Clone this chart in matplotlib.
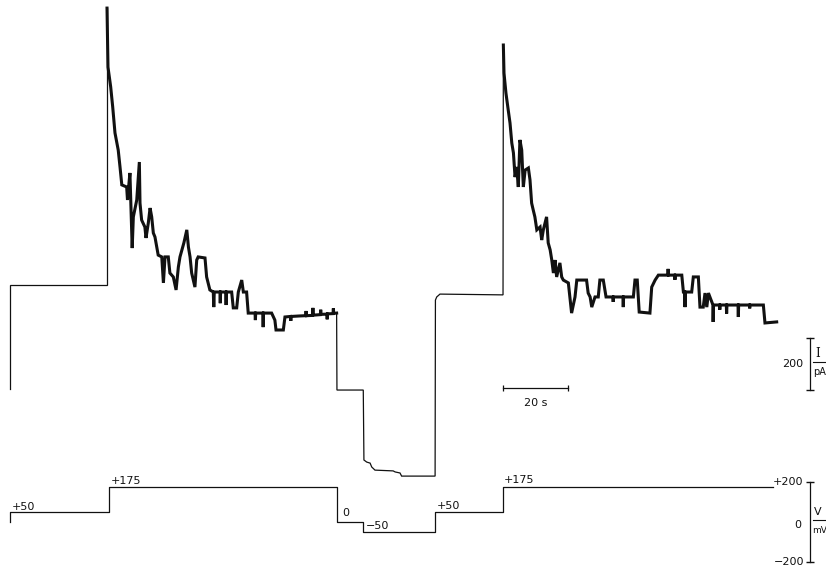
import matplotlib
matplotlib.use("Agg")
import matplotlib.pyplot as plt

# ---------------- data (time in s, current in pA, voltage in mV) ----------------
holding_segment = [(0, 0), (0, 400), (29.85, 400), (29.85, 1465)]

response1 = [(29.85, 1465), (30.15, 1238), (30.98, 1162), (31.6, 1085), (32.3, 985),
             (33.3, 919), (33.85, 854), (34.4, 785), (35.9, 777), (36.15, 727),
             (36.5, 777), (36.9, 831), (37.6, 542), (37.95, 662), (39.0, 727),
             (39.8, 873), (40.0, 715), (40.5, 650), (41.5, 623), (41.85, 581),
             (42.55, 638), (43.1, 696), (43.6, 662), (44.1, 600), (44.6, 585),
             (45.6, 515), (46.7, 508), (47.2, 408), (47.7, 508), (48.7, 508),
             (49.2, 446), (50.25, 431), (51.1, 381), (51.8, 469), (52.3, 508),
             (53.5, 562), (54.4, 612), (54.9, 546), (55.4, 508), (55.9, 446),
             (56.9, 392), (57.45, 496), (57.9, 508), (60.0, 504), (60.5, 431),
             (61.5, 381), (62.55, 373), (62.7, 315), (62.85, 373), (64.6, 373),
             (64.7, 330), (64.8, 373), (66.4, 373), (66.5, 323), (66.6, 373),
             (68.2, 373), (68.7, 312), (69.75, 312), (70.25, 373), (71.3, 419),
             (71.8, 373), (72.8, 373), (73.3, 292), (75.4, 292), (75.5, 265),
             (75.6, 292), (77.8, 292), (77.9, 238), (78.0, 292), (80.5, 292),
             (81.5, 265), (81.85, 227), (84.1, 227), (84.6, 277), (86.3, 279),
             (86.4, 262), (86.5, 279), (89.2, 281), (91.0, 282), (91.1, 300),
             (91.2, 282), (93.1, 283), (93.2, 312), (93.3, 284), (95.5, 286),
             (95.6, 305), (95.7, 287), (97.5, 288), (97.6, 268), (97.7, 289),
             (99.4, 290), (99.5, 310), (99.6, 291), (100.5, 292)]

steps_segment = [(100.5, 292), (100.6, -4), (108.7, -4), (108.9, -273), (109.75, -281),
                 (110.8, -285), (111.3, -300), (112.3, -312), (117.9, -315),
                 (118.5, -319), (120.0, -323), (120.5, -335), (130.8, -335),
                 (130.9, 342), (131.3, 354), (132.3, 365), (151.7, 362), (151.8, 1323)]

response2 = [(151.8, 1323), (152.0, 1215), (152.6, 1138), (153.3, 1073), (153.85, 1023),
             (154.4, 946), (154.9, 908), (155.4, 815), (155.9, 854), (156.4, 777),
             (156.9, 958), (157.45, 919), (157.95, 777), (158.5, 842), (159.5, 850),
             (160.0, 804), (160.5, 715), (161.0, 688), (161.5, 662), (162.1, 612),
             (163.1, 623), (163.6, 573), (164.1, 612), (165.1, 662), (165.6, 562),
             (166.2, 535), (166.7, 496), (167.2, 446), (167.7, 496), (168.2, 431),
             (169.2, 485), (169.75, 431), (170.25, 419), (171.8, 408), (172.8, 292),
             (173.85, 354), (174.4, 419), (177.4, 419), (177.9, 369), (178.5, 354),
             (179.0, 315), (180.0, 354), (181.0, 354), (181.5, 419), (182.55, 419),
             (183.4, 354), (185.5, 354), (185.6, 335), (185.7, 354), (188.6, 354),
             (188.7, 315), (188.8, 354), (191.8, 354),
             (192.3, 419), (193.0, 419), (193.6, 296), (196.9, 292), (197.45, 392),
             (198.5, 419), (199.5, 438), (202.4, 438), (202.5, 462), (202.6, 438),
             (204.5, 438), (204.6, 420), (204.7, 438),
             (206.7, 438), (207.2, 373), (207.6, 373), (207.7, 315), (207.8, 373),
             (209.75, 373), (210.25, 431), (211.8, 431), (212.3, 315), (213.3, 315),
             (213.85, 369), (214.4, 315), (214.9, 369), (216.3, 323), (216.35, 258),
             (216.45, 323), (218.3, 323), (218.4, 305), (218.5, 323),
             (220.4, 323), (220.5, 290), (220.6, 323), (224.0, 323),
             (224.1, 277), (224.2, 323), (227.5, 323), (227.6, 310), (227.7, 323),
             (231.8, 323), (232.3, 254), (235.9, 258)]

volt_start = 0
volt_times = [0, 30.5, 100.5, 108.7, 130.8, 151.6, 234.8]
volt_levels = [50, 175, 0, -50, 50, 175, 175]
volt_labels = ["+50", "+175", "0", "\u221250", "+50", "+175"]

current_bar_pA = 200
time_bar_s = 20
volt_bar_mV = 200

# ---------------- figure ----------------
fig = plt.figure(figsize=(8.26, 5.69), dpi=100)
plt.rcParams['font.family'] = ['DejaVu Sans']

ax = fig.add_axes([0, 0, 1, 1])
ax.set_xlim(-10 / 3.25, 816 / 3.25)
ax.set_ylim(-180 / 0.26, 389 / 0.26)
ax.set_axis_off()

vax = fig.add_axes([0, 0, 1, 1], sharex=ax)
vax.set_ylim(-47 / 0.2, 522 / 0.2)
vax.set_axis_off()
vax.patch.set_visible(False)

ink = '#111111'

def draw(seg, lw):
    t, i = zip(*seg)
    ax.plot(t, i, color=ink, lw=lw, solid_joinstyle='miter')

draw(holding_segment, 0.9)
draw(response1, 2.2)
draw(steps_segment, 0.9)
draw(response2, 2.2)

# voltage trace
vx = [volt_times[0]] + volt_times
vy = [volt_start] + volt_levels
vax.plot(vx, vy, drawstyle='steps-post', color=ink, lw=0.9)

label_offsets = [(1, 1.5), (1, 2.5), (4, 4.5), (2, 2), (1, 2), (1, 3)]
for lab, t0, lev, off in zip(volt_labels, volt_times, volt_levels, label_offsets):
    vax.annotate(lab, (t0, lev), xytext=off, textcoords='offset points',
                 ha='left', va='baseline', fontsize=8, color=ink)

# current scale bar
bar_t = 246.15
ib0 = -4
ax.plot([bar_t, bar_t], [ib0, ib0 + current_bar_pA], color=ink, lw=0.9)
ax.plot([bar_t, bar_t], [ib0, ib0 + current_bar_pA], ls='none', marker='_',
        ms=6, mew=1.0, color=ink)
ax.text(bar_t - 2.2, ib0 + current_bar_pA / 2, str(current_bar_pA), ha='right',
        va='center', fontsize=8, color=ink)
ax.text(248.4, 138, 'I', ha='center', va='center', fontsize=8.5, color=ink,
        family='DejaVu Serif')
ax.plot([247.1, 251.5], [104, 104], color=ink, lw=0.8)
ax.text(247.0, 66, 'pA', ha='left', va='center', fontsize=7, color=ink)

# time scale bar
tb0 = 151.7
tb_y = 4
ax.plot([tb0, tb0 + time_bar_s], [tb_y, tb_y], color=ink, lw=0.9)
ax.plot([tb0, tb0 + time_bar_s], [tb_y, tb_y], ls='none', marker='|', ms=5,
        mew=0.9, color=ink)
ax.text(tb0 + time_bar_s / 2, -54, f'{time_bar_s} s', ha='center', va='center',
        fontsize=8, color=ink)

# voltage scale bar
vax.plot([bar_t, bar_t], [-volt_bar_mV, volt_bar_mV], color=ink, lw=0.9)
vax.plot([bar_t, bar_t], [-volt_bar_mV, volt_bar_mV], ls='none', marker='_',
         ms=6, mew=1.0, color=ink)
vax.text(bar_t - 2.2, volt_bar_mV, f'+{volt_bar_mV}', ha='right', va='center',
         fontsize=8, color=ink)
vax.text(bar_t - 2.8, -15, '0', ha='right', va='center', fontsize=8, color=ink)
vax.text(bar_t - 1.6, -volt_bar_mV, f'\u2212{volt_bar_mV}', ha='right', va='center',
         fontsize=8, color=ink)
vax.text(248.4, 50, 'V', ha='center', va='center', fontsize=8, color=ink)
vax.plot([247.0, 251.5], [10, 10], color=ink, lw=0.8)
vax.text(246.9, -42, 'mV', ha='left', va='center', fontsize=6.5, color=ink)

fig.savefig('out.png', dpi=100, facecolor='white')
